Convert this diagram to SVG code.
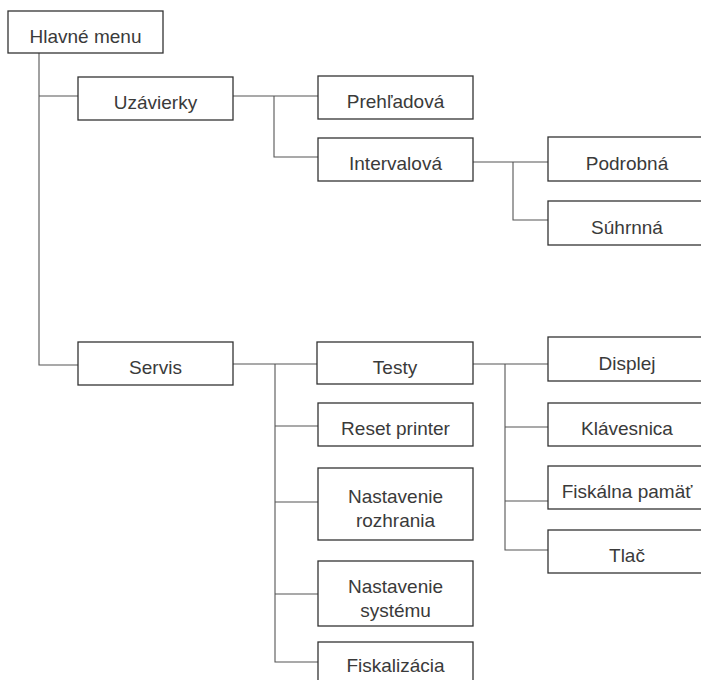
<svg xmlns="http://www.w3.org/2000/svg" width="701" height="680" viewBox="0 0 701 680">
<style>
.box{fill:#fff;stroke:#333;stroke-width:1.3}
.lbl{font-family:"Liberation Sans",Arial,sans-serif;font-size:19px;fill:#3a3a3a;text-anchor:middle}
.con{fill:none;stroke:#555;stroke-width:1.1}
</style>
<rect width="701" height="680" fill="#fff"/>
<g id="connectors">
<path class="con" d="M39,53 V365 H78"/>
<path class="con" d="M39,96 H78"/>
<path class="con" d="M233,96 H318"/>
<path class="con" d="M274,96 V157 H318"/>
<path class="con" d="M473,162 H548"/>
<path class="con" d="M513,162 V220 H548"/>
<path class="con" d="M233,364 H317"/>
<path class="con" d="M275,364 V662 H318"/>
<path class="con" d="M275,426 H318"/>
<path class="con" d="M275,502 H318"/>
<path class="con" d="M275,594 H318"/>
<path class="con" d="M473,364 H548"/>
<path class="con" d="M505,364 V550 H548"/>
<path class="con" d="M505,427 H548"/>
<path class="con" d="M505,501 H548"/>
</g>
<g id="hlavne-menu"><rect class="box" x="8" y="11" width="155" height="42"/><text class="lbl" x="85.5" y="43">Hlavné menu</text></g>
<g id="uzavierky"><rect class="box" x="78" y="77" width="155" height="43"/><text class="lbl" x="155.5" y="109">Uzávierky</text></g>
<g id="servis"><rect class="box" x="78" y="342" width="155" height="43"/><text class="lbl" x="155.5" y="374">Servis</text></g>
<g id="prehladova"><rect class="box" x="318" y="76" width="155" height="43"/><text class="lbl" x="395.5" y="108">Prehľadová</text></g>
<g id="intervalova"><rect class="box" x="318" y="138" width="155" height="43"/><text class="lbl" x="395.5" y="170">Intervalová</text></g>
<g id="podrobna"><rect class="box" x="548" y="137" width="158" height="44"/><text class="lbl" x="627" y="170">Podrobná</text></g>
<g id="suhrnna"><rect class="box" x="548" y="201" width="158" height="44"/><text class="lbl" x="627" y="234">Súhrnná</text></g>
<g id="testy"><rect class="box" x="317" y="342" width="156" height="42"/><text class="lbl" x="395" y="374">Testy</text></g>
<g id="reset-printer"><rect class="box" x="318" y="403" width="155" height="43"/><text class="lbl" x="395.5" y="435">Reset printer</text></g>
<g id="nastavenie-rozhrania"><rect class="box" x="318" y="468" width="155" height="72"/><text class="lbl" x="395.5" y="503">Nastavenie</text><text class="lbl" x="395.5" y="527">rozhrania</text></g>
<g id="nastavenie-systemu"><rect class="box" x="318" y="561" width="155" height="65"/><text class="lbl" x="395.5" y="593">Nastavenie</text><text class="lbl" x="395.5" y="617">systému</text></g>
<g id="fiskalizacia"><rect class="box" x="318" y="642" width="155" height="45"/><text class="lbl" x="395.5" y="672">Fiskalizácia</text></g>
<g id="displej"><rect class="box" x="548" y="337" width="158" height="44"/><text class="lbl" x="627" y="370">Displej</text></g>
<g id="klavesnica"><rect class="box" x="548" y="403" width="158" height="43"/><text class="lbl" x="627" y="435">Klávesnica</text></g>
<g id="fiskalna-pamat"><rect class="box" x="548" y="466" width="158" height="43"/><text class="lbl" x="627" y="498">Fiskálna pamäť</text></g>
<g id="tlac"><rect class="box" x="548" y="530" width="158" height="43"/><text class="lbl" x="627" y="562">Tlač</text></g>
</svg>
